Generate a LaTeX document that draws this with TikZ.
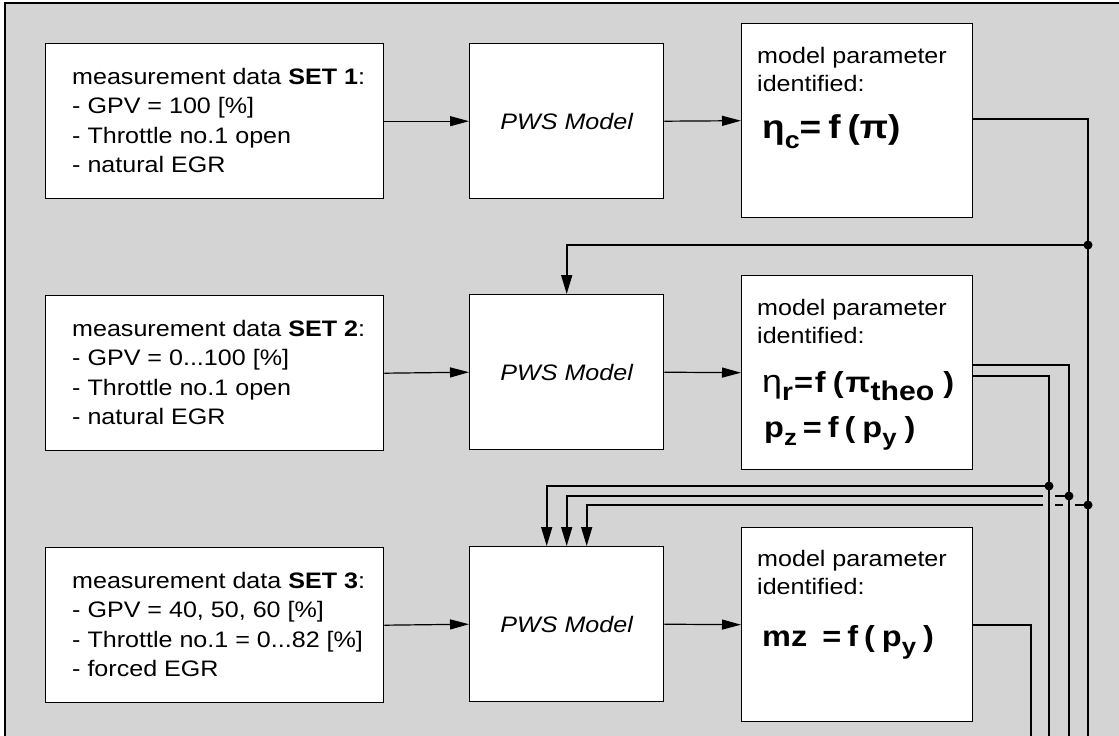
\documentclass[tikz,border=0pt]{standalone}
\usepackage{fontspec}
\setmainfont{Liberation Sans}[FakeStretch=1.12]
\usetikzlibrary{arrows.meta}
\definecolor{bg}{HTML}{D4D4D4}
\newcommand\lowsub[2][23]{\raisebox{-8pt}{\fontsize{#1}{#1}\selectfont\bfseries #2}}
\begin{document}
\begin{tikzpicture}[x=1pt,y=-1pt,
  box/.style={draw=black, line width=1.4pt, fill=white, inner sep=0pt, anchor=north west},
  measbox/.style={box, minimum width=338pt, minimum height=155pt},
  pwsbox/.style={box, minimum width=194pt, minimum height=155pt, font=\fontsize{22.4}{26}\selectfont\itshape},
  parbox/.style={box, minimum width=231pt, minimum height=194pt},
  meastxt/.style={align=left, anchor=west, inner sep=0pt, font=\fontsize{22.4}{29.5}\selectfont},
  partxt/.style={anchor=base west, inner sep=0pt, font=\fontsize{22.4}{26}\selectfont},
  fml/.style={anchor=base west, inner sep=0pt, font=\fontsize{29}{30}\selectfont\bfseries},
  arr/.style={line width=1.2pt, -{Triangle[length=19pt,width=10pt]}},
  fb/.style={line width=1.6pt},
  fbarr/.style={fb, -{Triangle[length=19pt,width=11pt]}},
  dot/.style={circle, fill=black, inner sep=0pt, minimum size=9pt}
]
\useasboundingbox (0,0) rectangle (1119,736);
\fill[bg] (5,3) rectangle (1119,736);
\draw[line width=2pt] (5,736) -- (5,3) -- (1119,3);

% row 1
\node[measbox] (m1) at (45,43) {};
\node[meastxt] (m1t) at (72,120.5) {measurement data \textbf{SET 1}:\\- GPV = 100 [\%]\\- Throttle no.1 open\\- natural EGR};
\node[pwsbox] (p1) at (469,43) {PWS Model};
\node[parbox] (q1) at (741,23) {};
\node[partxt] (q1a) at (757,63) {model parameter};
\node[partxt] (q1b) at (757,91) {identified:};
\node[fml, font=\fontsize{33}{34}\selectfont\bfseries] (f1) at (762,138) {η\raisebox{-10pt}{\fontsize{24}{24}\selectfont c}=\hspace{7pt}f\hspace{7pt}(π)};

% row 2
\node[measbox] (m2) at (45,295) {};
\node[meastxt] (m2t) at (72,372.5) {measurement data \textbf{SET 2}:\\- GPV = 0...100 [\%]\\- Throttle no.1 open\\- natural EGR};
\node[pwsbox] (p2) at (469,294) {PWS Model};
\node[parbox] (q2) at (741,275) {};
\node[partxt] (q2a) at (757,315) {model parameter};
\node[partxt] (q2b) at (757,343) {identified:};
\node[fml] (f2) at (762,392) {{\mdseries\fontsize{32}{32}\selectfont η}\lowsub[25]{r}\hspace{1pt}=\hspace{2pt}f\hspace{7pt}(\hspace{2pt}π\lowsub[27]{theo}\hspace{9pt})};
\node[fml] (f3) at (764,437) {p\lowsub{z}\hspace{6pt}=\hspace{6pt}f\hspace{6pt}(\hspace{7pt}p\lowsub{y}\hspace{8pt})};

% row 3
\node[measbox] (m3) at (45,547) {};
\node[meastxt] (m3t) at (72,624.5) {measurement data \textbf{SET 3}:\\- GPV = 40, 50, 60 [\%]\\- Throttle no.1 = 0...82 [\%]\\- forced EGR};
\node[pwsbox] (p3) at (469,546) {PWS Model};
\node[parbox] (q3) at (741,527) {};
\node[partxt] (q3a) at (757,566) {model parameter};
\node[partxt] (q3b) at (757,594) {identified:};
\node[fml] (f4) at (762,646) {mz\hspace{15pt}=\hspace{6pt}f\hspace{6pt}(\hspace{7pt}p\lowsub{y}\hspace{7pt})};

% forward arrows
\draw[arr] (m1.east) -- (p1.west);
\draw[arr] (p1.east) -- (q1.west);
\draw[arr] (m2.east) -- (p2.west);
\draw[arr] (p2.east) -- (q2.west);
\draw[arr] (m3.east) -- (p3.west);
\draw[arr] (p3.east) -- (q3.west);

% junctions
\coordinate (d1) at (1088,245);
\coordinate (d2a) at (1049,486);
\coordinate (d2b) at (1069,496);
\coordinate (d3) at (1088,505);
\coordinate (b1) at (1088,736);
\coordinate (b2a) at (1049,736);
\coordinate (b2b) at (1069,736);
\coordinate (b3) at (1031,736);

% feedback into PWS 2 and PWS 3
\draw[fbarr] (d1) -| (p2.north);
\draw[fbarr] (d2a) -| ([xshift=-20pt]p3.north);
\draw[fbarr] (d2b) -| (p3.north);
\draw[fbarr] (d3) -| ([xshift=20pt]p3.north);
% line hops
\fill[bg] (1043,492) rectangle (1055,500);
\fill[bg] (1043,501) rectangle (1055,509);
\fill[bg] (1063,501) rectangle (1075,509);

% outputs going down
\draw[fb] ([yshift=2pt]q1.east) -| (d1) -- (d3) -- (b1);
\draw[fb] ([yshift=7.5pt]q2.east) -| (d2b) -- (b2b);
\draw[fb] ([yshift=-3.5pt]q2.east) -| (d2a) -- (b2a);
\draw[fb] (q3.east) -| (b3);

\node[dot] (n1) at (d1) {};
\node[dot] (n2) at (d2a) {};
\node[dot] (n3) at (d2b) {};
\node[dot] (n4) at (d3) {};
\end{tikzpicture}
\end{document}
